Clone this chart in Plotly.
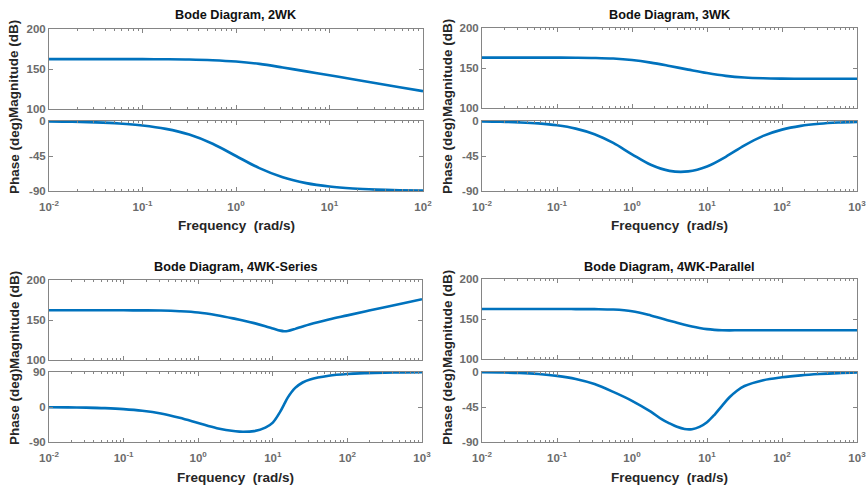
import plotly.graph_objects as go

# ---------------- data ----------------
# angular frequency given as log10(omega) sample points
logw_2wk = [-2, -1.75, -1.5, -1.25, -1, -0.75, -0.5, -0.25, 0, 0.25, 0.5, 0.75, 1, 1.25, 1.5, 1.75, 2]
mag_2wk = [162.3, 162.3, 162.3, 162.3, 162.3, 162.2, 161.9, 161.0, 159.3, 156.4, 151.9,
           147.0, 142.3, 137.3, 132.3, 127.3, 122.3]
phase_2wk = [-0.6, -1.0, -1.8, -3.2, -5.7, -10.1, -17.5, -29.3, -45.0, -60.6, -72.4,
             -79.9, -84.3, -86.8, -88.2, -89.0, -89.4]

logw_3wk = [-2, -1.75, -1.5, -1.25, -1, -0.75, -0.5, -0.25, 0, 0.25, 0.5, 0.75, 1,
            1.25, 1.5, 1.75, 2, 2.25, 2.5, 2.75, 3]
mag_3wk = [163.0, 163.0, 163.0, 163.0, 162.96, 162.86, 162.57, 161.8, 159.9, 156.7, 152.5,
           148.0, 143.7, 140.2, 138.1, 137.1, 136.7, 136.6, 136.5, 136.5, 136.5]
phase_3wk = [-0.6, -1.0, -1.8, -3.1, -5.5, -9.8, -17.0, -28.2, -42.8, -56.3, -64.1,
             -64.8, -58.5, -46.0, -31.3, -19.1, -11.1, -6.3, -3.6, -2.0, -1.1]

logw_4wks = [-2, -1.75, -1.5, -1.25, -1, -0.75, -0.5, -0.25, 0, 0.25, 0.5, 0.6, 0.75,
             0.9, 1.0, 1.1, 1.15, 1.2, 1.3, 1.4, 1.5, 1.75, 2, 2.25, 2.5, 2.75, 3]
mag_4wks = [162.2, 162.2, 162.2, 162.2, 162.1, 162.0, 161.8, 161.0, 159.4, 156.0, 151.4,
            149.4, 146.1, 142.3, 139.5, 136.7, 136.0, 136.3, 138.9, 142.0, 144.8, 150.6,
            155.8, 161.0, 166.0, 171.0, 176.0]
phase_4wks = [-0.5, -1.0, -1.7, -3.0, -5.4, -9.6, -16.5, -27.5, -41.0, -54.5, -62.5,
              -63.8, -62.0, -53.0, -40.0, -12.0, 6.0, 24.0, 49.0, 63.0, 71.0, 80.5, 85.0,
              87.2, 88.4, 89.1, 89.5]

logw_4wkp_mag = [-2, -1.75, -1.5, -1.25, -1, -0.75, -0.5, -0.25, 0, 0.25, 0.5, 0.6, 0.7,
                 0.8, 0.9, 1.0, 1.1, 1.2, 1.3, 1.4, 1.5, 1.75, 2, 2.25, 2.5, 2.75, 3]
mag_4wkp = [162.5, 162.5, 162.5, 162.5, 162.5, 162.4, 162.3, 161.8, 159.7, 154.4, 147.9,
            145.3, 142.9, 140.7, 138.8, 137.3, 136.4, 135.9, 135.8, 135.9, 136.0, 136.0,
            136.0, 136.0, 136.0, 136.0, 136.0]
logw_4wkp_ph = [-2, -1.75, -1.5, -1.25, -1, -0.75, -0.5, -0.25, 0, 0.25, 0.4, 0.5, 0.6,
                0.7, 0.8, 0.9, 1.0, 1.1, 1.2, 1.3, 1.4, 1.5, 1.75, 2, 2.25, 2.5, 2.75, 3]
phase_4wkp = [-0.3, -0.6, -1.2, -2.6, -5.0, -9.0, -15.5, -25.5, -37.0, -51.0, -61.0, -66.0,
              -70.5, -73.3, -73.5, -70.5, -64.5, -55.0, -43.5, -32.5, -24.0, -18.0, -10.5,
              -6.8, -4.3, -2.6, -1.4, -0.6]

titles = ["Bode Diagram, 2WK", "Bode Diagram, 3WK",
          "Bode Diagram, 4WK-Series", "Bode Diagram, 4WK-Parallel"]
decades_2wk = [-2, -1, 0, 1, 2]
decades_full = [-2, -1, 0, 1, 2, 3]
mag_ticks = [100, 150, 200]
phase_ticks_lag = [-90, -45, 0]
phase_ticks_sym = [-90, 0, 90]

# ---------------- layout helpers ----------------
W, H = 866, 486
LINE_COLOR = "#0072BD"
FRAME = "#858585"
FAMILY = "Liberation Sans, Arial, sans-serif"
TICK_FONT = dict(family=FAMILY, size=11.5, color="#6b6b6b", weight="bold")
LABEL_FONT = dict(family=FAMILY, size=13.5, color="#262626", weight="bold")
TITLE_FONT = dict(family=FAMILY, size=12.7, color="#111111", weight="bold")


def fx(px):
    return px / W


def fy(py):
    return 1 - py / H


def pow_label(e):
    return "10<sup>%d</sup>" % e if e >= 0 else "10<sup>-%d</sup>" % (-e)


def minor_vals(decs):
    vals = []
    for d in decs[:-1]:
        for k in range(2, 10):
            vals.append(k * 10.0 ** d)
    return vals


panels = [
    dict(lm=logw_2wk, lp=logw_2wk, mag=mag_2wk, ph=phase_2wk, dec=decades_2wk,
         pt=phase_ticks_lag, pr=[-90, 0], x0=49, x1=423, m=(29, 109), p=(121, 191),
         title_y=15, xl_y=225),
    dict(lm=logw_3wk, lp=logw_3wk, mag=mag_3wk, ph=phase_3wk, dec=decades_full,
         pt=phase_ticks_lag, pr=[-90, 0], x0=482, x1=857, m=(28, 108), p=(121, 191),
         title_y=15, xl_y=225),
    dict(lm=logw_4wks, lp=logw_4wks, mag=mag_4wks, ph=phase_4wks, dec=decades_full,
         pt=phase_ticks_sym, pr=[-90, 90], x0=49, x1=422, m=(280, 360), p=(372, 442),
         title_y=267, xl_y=477),
    dict(lm=logw_4wkp_mag, lp=logw_4wkp_ph, mag=mag_4wkp, ph=phase_4wkp, dec=decades_full,
         pt=phase_ticks_lag, pr=[-90, 0], x0=482, x1=857, m=(279, 359), p=(372, 442),
         title_y=267, xl_y=477),
]

fig = go.Figure()
annotations = []
layout_axes = {}

for i, pnl in enumerate(panels):
    mi = 2 * i + 1          # magnitude axes index
    pi = 2 * i + 2          # phase axes index
    for idx, logw, yvals in ((mi, pnl["lm"], pnl["mag"]), (pi, pnl["lp"], pnl["ph"])):
        fig.add_trace(go.Scatter(
            x=[10 ** v for v in logw], y=yvals, mode="lines",
            line=dict(color=LINE_COLOR, width=2.6, shape="spline", smoothing=1.0),
            xaxis="x%d" % idx, yaxis="y%d" % idx, showlegend=False, hoverinfo="skip"))

    dom_x = [fx(pnl["x0"]), fx(pnl["x1"])]
    xr = [pnl["dec"][0], pnl["dec"][-1]]
    for idx, (top, bot), show_lbl in ((mi, pnl["m"], False), (pi, pnl["p"], True)):
        layout_axes["xaxis%d" % idx] = dict(
            type="log", domain=dom_x, range=xr, anchor="y%d" % idx, automargin=False,
            tickmode="array", tickvals=[10 ** d for d in pnl["dec"]],
            ticktext=[pow_label(d) for d in pnl["dec"]], showticklabels=show_lbl,
            ticklabelstandoff=5, ticklabeloverflow="allow",
            ticks="inside", ticklen=4, tickcolor=FRAME,
            showline=True, linecolor=FRAME, linewidth=1, mirror="allticks",
            showgrid=False, zeroline=False, tickfont=TICK_FONT,
            minor=dict(ticks="inside", ticklen=2, tickcolor=FRAME,
                       tickmode="array", tickvals=minor_vals(pnl["dec"]), showgrid=False),
        )
        yt = mag_ticks if idx == mi else pnl["pt"]
        yr = [100, 200] if idx == mi else pnl["pr"]
        layout_axes["yaxis%d" % idx] = dict(
            domain=[fy(bot), fy(top)], range=yr, anchor="x%d" % idx, automargin=False,
            tickmode="array", tickvals=yt, ticktext=[str(v) for v in yt],
            ticklabeloverflow="allow",
            ticks="inside", ticklen=4, tickcolor=FRAME,
            showline=True, linecolor=FRAME, linewidth=1, mirror="allticks",
            showgrid=False, zeroline=False, tickfont=TICK_FONT,
        )

    cx = (pnl["x0"] + pnl["x1"]) / 2
    annotations.append(dict(text=titles[i], x=fx(cx), y=fy(pnl["title_y"]), xref="paper",
                            yref="paper", showarrow=False, font=TITLE_FONT,
                            xanchor="center", yanchor="middle"))
    annotations.append(dict(text="Frequency\u00a0 (rad/s)", x=fx(cx), y=fy(pnl["xl_y"]),
                            xref="paper", yref="paper", showarrow=False, font=LABEL_FONT,
                            xanchor="center", yanchor="middle"))
    lx = pnl["x0"] - 35
    annotations.append(dict(text="Magnitude (dB)", x=fx(lx), y=fy(sum(pnl["m"]) / 2),
                            xref="paper", yref="paper", showarrow=False, font=LABEL_FONT,
                            textangle=-90, xanchor="center", yanchor="middle"))
    annotations.append(dict(text="Phase (deg)", x=fx(lx), y=fy(sum(pnl["p"]) / 2),
                            xref="paper", yref="paper", showarrow=False, font=LABEL_FONT,
                            textangle=-90, xanchor="center", yanchor="middle"))

fig.update_layout(
    template="none",
    width=W, height=H, margin=dict(l=0, r=0, t=0, b=0),
    paper_bgcolor="white", plot_bgcolor="white",
    annotations=annotations, **layout_axes,
)

fig.write_html("out.html")
